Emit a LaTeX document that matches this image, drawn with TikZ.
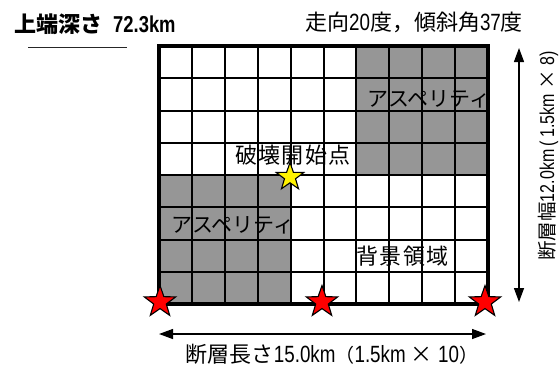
\documentclass[tikz,border=0pt]{standalone}
\usepackage{fontspec}
\setmainfont{Noto Sans CJK JP}
\newfontfamily\latn[FakeStretch=0.8]{Liberation Sans}
\usetikzlibrary{shapes.geometric,arrows.meta}
\definecolor{aspgray}{RGB}{150,150,150}
\newcommand{\ks}{\kern1.5pt}
\newcommand{\lt}[2][23.5]{{\latn\fontsize{#1}{28}\selectfont #2}}
\newcommand{\fw}[2][19]{{\fontsize{#1}{22}\selectfont #2}}
\begin{document}
\begin{tikzpicture}[x=1pt,y=-1pt,
  lbl/.style={inner sep=0pt,font=\fontsize{22}{26}\selectfont},
  kana/.style={inner sep=0pt,font=\fontsize{21}{25}\selectfont},
  starmark/.style={star,star points=5,star point ratio=2.5,draw=black,line width=1.1pt,inner sep=0pt},
  gridline/.style={line width=2pt,black},
  dimarrow/.style={line width=1.3pt,{Triangle[length=14pt,width=10pt]}-{Triangle[length=14pt,width=10pt]}}
]
\useasboundingbox (0,0) rectangle (560,368);
\fill[white] (0,0) rectangle (560,368);
% grid
\def\gx{159}\def\gy{46}\def\dx{32.9}\def\dy{32.25}
\fill[aspgray] (356.4,46) rectangle (488,175);
\fill[aspgray] (159,175) rectangle (290.6,304);
\foreach \i in {1,...,9} {\draw[gridline] ({\gx+\i*\dx},46) -- ({\gx+\i*\dx},304);}
\foreach \j in {1,...,7} {\draw[gridline] (159,{\gy+\j*\dy}) -- (488,{\gy+\j*\dy});}
\draw[line width=3.2pt] (159,46) rectangle (488,304);
% labels in grid
\node[kana] (asp1) at (429,99) {アスペリティ};
\node[kana] (asp2) at (233,225) {アスペリティ};
\node[lbl] (hakai) at (293,155) {破\ks 壊\ks 開\ks 始\ks 点};
\node[lbl] (haikei) at (402.5,256) {背\ks 景\ks 領\ks 域};
% stars
\node[starmark,fill=yellow,minimum size=29pt] (epi) at (290,177) {};
\node[starmark,fill=red,minimum size=33pt] (s1) at (160,302) {};
\node[starmark,fill=red,minimum size=33pt] (s2) at (322,302) {};
\node[starmark,fill=red,minimum size=33pt] (s3) at (485,302) {};
% arrows
\coordinate (bl) at (159,334);
\coordinate (br) at (486,334);
\draw[dimarrow] (bl) -- (br);
\node[lbl] (len) at (332,354) {断層長さ\lt{15.0km}\fw{（}\lt{1.5km }×\lt{ 10}\fw{）}};
\coordinate (rt) at (519,48);
\coordinate (rb) at (519,302);
\draw[dimarrow] (rt) -- (rb);
\node[inner sep=0pt,rotate=90,font=\fontsize{19.5}{24}\selectfont] (wid) at (548,156) {断層幅\lt[20]{12.0km\,(\,1.5km }×\lt[20]{ 8)}};
% titles
\node[lbl] (strike) at (414,22) {走向\lt{20}度，傾斜角\lt{37}度};
\node[inner sep=0pt,font=\fontsize{22}{26}\selectfont\bfseries,anchor=west] (depth) at (14,24) {上端深さ\hspace{11pt}{\latn\fontsize{23}{27}\selectfont\bfseries 72.3km}};
\coordinate (ul) at (28,47);
\coordinate (ur) at (127,47);
\draw[line width=1pt,black!85] (ul) -- (ur);
\end{tikzpicture}
\end{document}
